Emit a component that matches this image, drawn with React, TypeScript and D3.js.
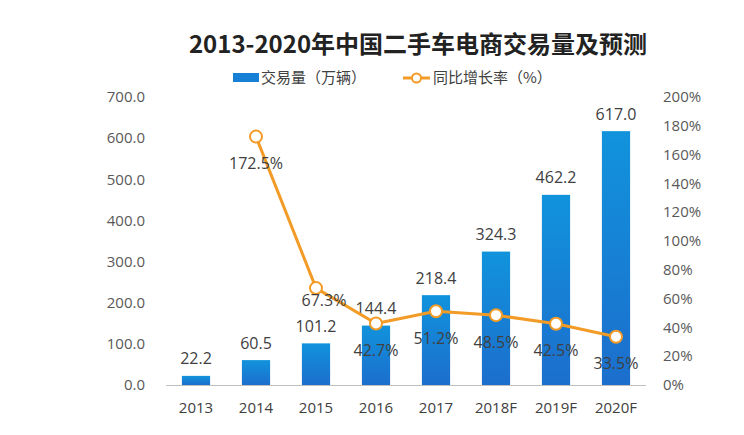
import React from "react";
import * as d3 from "d3";

const categories = ["2013", "2014", "2015", "2016", "2017", "2018F", "2019F", "2020F"];
const volumes = [22.2, 60.5, 101.2, 144.4, 218.4, 324.3, 462.2, 617.0];
const growth: (number | null)[] = [null, 172.5, 67.3, 42.7, 51.2, 48.5, 42.5, 33.5];
const leftTicks = [0, 100, 200, 300, 400, 500, 600, 700];
const rightTicks = [0, 20, 40, 60, 80, 100, 120, 140, 160, 180, 200];

const W = 744;
const H = 435;
const FONT = "'Microsoft YaHei', 'Noto Sans CJK SC', sans-serif";
const NUM = "'Segoe UI', 'Open Sans', 'Noto Sans', sans-serif";

export default function App() {
  const x = d3.scaleBand<string>().domain(categories).range([166, 646]).paddingInner(0.53).paddingOuter(0.265);
  const yL = d3.scaleLinear().domain([0, 700]).range([385, 97]);
  const yR = d3.scaleLinear().domain([0, 200]).range([385, 97]);
  const cx = (c: string) => (x(c) as number) + x.bandwidth() / 2;

  const pts = categories
    .map((c, i) => ({ c, v: growth[i] }))
    .filter((d) => d.v !== null) as { c: string; v: number }[];
  const line = d3
    .line<{ c: string; v: number }>()
    .x((d) => cx(d.c))
    .y((d) => yR(d.v));

  return (
    <svg width={W} height={H} style={{ position: "absolute", left: 0, top: 0, background: "#fff" }} fontFamily={FONT}>
      <defs>
        <linearGradient id="barGrad" x1="0" y1="0" x2="0" y2="1">
          <stop offset="0%" stopColor="#1193dc" />
          <stop offset="100%" stopColor="#1c6ecd" />
        </linearGradient>
      </defs>
      <text x={418} y={53} textAnchor="middle" fontSize={24} fontWeight="bold" fill="#222">
        2013-2020年中国二手车电商交易量及预测
      </text>
      {/* legend */}
      <rect x={233} y={73} width={26} height={9} fill="#1580d6" />
      <text x={261} y={83} fontSize={15} fill="#404040">交易量（万辆）</text>
      <line x1={403} x2={430} y1={78} y2={78} stroke="#f29b26" strokeWidth={3} />
      <circle cx={416.5} cy={78} r={4.5} fill="#fff" stroke="#f29b26" strokeWidth={2} />
      <text x={433} y={83} fontSize={15} fill="#404040">同比增长率（%）</text>

      {/* left axis ticks */}
      {leftTicks.map((t) => (
        <text key={"l" + t} x={145} y={yL(t)} dy="0.35em" textAnchor="end" fontSize={15} fontFamily={NUM} fill="#595959">
          {t.toFixed(1)}
        </text>
      ))}
      {rightTicks.map((t) => (
        <text key={"r" + t} x={663} y={yR(t)} dy="0.35em" textAnchor="start" fontSize={15} fontFamily={NUM} fill="#595959">
          {t + "%"}
        </text>
      ))}

      {/* bars */}
      {categories.map((c, i) => (
        <rect key={c} x={x(c)} y={yL(volumes[i])} width={x.bandwidth()} height={yL(0) - yL(volumes[i])} fill="url(#barGrad)" />
      ))}
      <line x1={166} x2={646} y1={385.5} y2={385.5} stroke="#bfbfbf" strokeWidth={1} />

      {/* x labels */}
      {categories.map((c) => (
        <text key={"x" + c} x={cx(c)} y={408} dy="0.35em" textAnchor="middle" fontSize={15} fontFamily={NUM} fill="#404040">
          {c}
        </text>
      ))}

      {/* bar value labels */}
      {categories.map((c, i) => (
        <text key={"v" + c} x={cx(c)} y={yL(volumes[i]) - 17} dy="0.35em" textAnchor="middle" fontSize={16} fontFamily={NUM} fill="#404040">
          {volumes[i].toFixed(1)}
        </text>
      ))}

      {/* growth line */}
      <path d={line(pts) || ""} fill="none" stroke="#f29b26" strokeWidth={3} strokeLinejoin="round" />
      {pts.map((d) => (
        <circle key={"p" + d.c} cx={cx(d.c)} cy={yR(d.v)} r={6} fill="#fff" stroke="#f29b26" strokeWidth={2} />
      ))}
      {pts.map((d) => {
        const special = d.c === "2015";
        const dx = special ? 8 : 0;
        const dyOff = special ? 12 : 27;
        return (
          <text key={"g" + d.c} x={cx(d.c) + dx} y={yR(d.v) + dyOff} dy="0.35em" textAnchor="middle" fontSize={16} fontFamily={NUM} fill="#404040">
            {d.v.toFixed(1) + "%"}
          </text>
        );
      })}
    </svg>
  );
}
